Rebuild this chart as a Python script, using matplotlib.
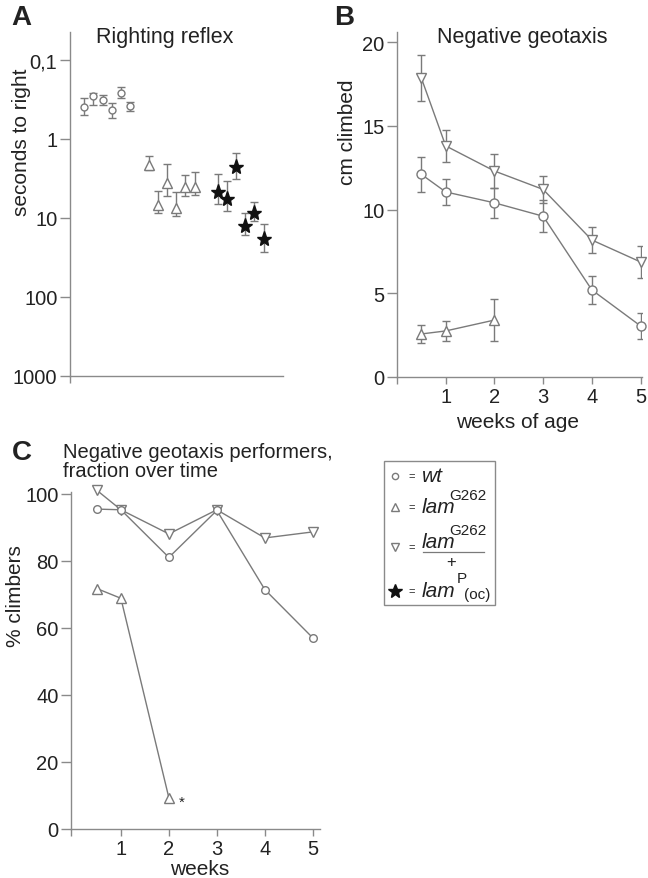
import matplotlib
matplotlib.use("Agg")
import matplotlib.pyplot as plt
from matplotlib.lines import Line2D
from matplotlib.patches import Rectangle
import numpy as np

plt.rcParams['font.family'] = ['Liberation Sans', 'DejaVu Sans']

# ---------------- data ----------------
# Panel A: righting reflex (seconds to right), log scale
a_wt = [0.39, 0.29, 0.32, 0.43, 0.26, 0.38]
a_wt_lo = [0.30, 0.26, 0.28, 0.35, 0.22, 0.34]
a_wt_hi = [0.50, 0.37, 0.37, 0.54, 0.30, 0.44]
a_lam = [2.13, 6.8, 3.6, 7.5, 4.05, 4.0]
a_lam_lo = [1.64, 4.55, 2.07, 4.69, 2.86, 2.62]
a_lam_hi = [2.47, 8.65, 5.27, 9.4, 5.27, 5.1]
a_oc = [4.69, 5.75, 2.26, 12.6, 8.6, 18.4]
a_oc_lo = [2.77, 3.4, 1.5, 8.65, 6.26, 11.9]
a_oc_hi = [6.65, 8.15, 3.2, 16.4, 10.9, 26.9]
a_yticks = [0.1, 1, 10, 100, 1000]
a_yticklabels = ['0,1', '1', '10', '100', '1000']

# Panel B: negative geotaxis (cm climbed)
b_weeks = [0.5, 1, 2, 3, 4, 5]
b_het = [17.85, 13.8, 12.3, 11.2, 8.18, 6.87]
b_het_err = [1.35, 0.95, 1.0, 0.8, 0.75, 0.95]
b_wt = [12.1, 11.05, 10.4, 9.6, 5.2, 3.05]
b_wt_err = [1.05, 0.8, 0.9, 0.95, 0.85, 0.8]
b_lam_weeks = [0.5, 1, 2]
b_lam = [2.57, 2.75, 3.4]
b_lam_err = [0.55, 0.6, 1.25]

# Panel C: % climbers
c_weeks = [0.5, 1, 2, 3, 4, 5]
c_het = [101.0, 95.2, 88.0, 95.2, 86.8, 88.6]
c_wt = [95.4, 95.2, 81.0, 95.0, 71.4, 57.0]
c_lam_weeks = [0.5, 1, 2]
c_lam = [71.7, 68.8, 9.3]

week_ticks = [1, 2, 3, 4, 5]

# ---------------- style ----------------
GREY = '#7a7a7a'
AXC = '#8a8a8a'
TXT = '#222222'
FS_TICK = 14.5
FS_LAB = 15
FS_TITLE = 15.5
W, H = 648, 879
fig = plt.figure(figsize=(W / 100, H / 100), dpi=100)

def px(x):
    return x / W

def py(y):
    return 1 - y / H

def style_axes(ax):
    for s in ['top', 'right']:
        ax.spines[s].set_visible(False)
    for s in ['left', 'bottom']:
        ax.spines[s].set_color(AXC)
        ax.spines[s].set_linewidth(1.0)
    ax.tick_params(colors=AXC, labelcolor=TXT, labelsize=FS_TICK, width=1.0, direction='out')
    ax.tick_params(axis='y', length=7, pad=2)
    ax.tick_params(axis='x', length=5, pad=2)

def with_corner_tick(ax, ticks, x0):
    ax.set_xticks([x0] + list(ticks))
    ax.set_xticklabels([''] + [str(t) for t in ticks])

# ---------------- Panel A ----------------
axA = fig.add_axes([px(70), py(377), px(283) - px(70), py(33) - py(377)])
style_axes(axA)
axA.set_yscale('log')
axA.set_ylim(1000, 0.0443)
step = 1.0
xw = np.arange(len(a_wt)) * step
xl = xw[-1] + 2 * step + np.arange(len(a_lam)) * step
xs = xl[-1] + 2.5 * step + np.arange(len(a_oc)) * step
axA.set_xlim(-1.55, 21.6)

def errA(x, v, lo, hi, marker, fc, ms):
    v = np.array(v); lo = np.array(lo); hi = np.array(hi)
    axA.errorbar(x, v, yerr=[v - lo, hi - v], fmt='none', ecolor=GREY, elinewidth=1.0,
                 capsize=3, capthick=1.0, zorder=2)
    axA.plot(x, v, linestyle='none', marker=marker, mfc=fc, mec=GREY if fc == 'white' else '#111111',
             ms=ms, mew=1.0, zorder=3)

errA(xw, a_wt, a_wt_lo, a_wt_hi, 'o', 'white', 5)
errA(xl, a_lam, a_lam_lo, a_lam_hi, '^', 'white', 6.5)
errA(xs, a_oc, a_oc_lo, a_oc_hi, '*', '#111111', 11)
axA.set_yticks(a_yticks)
axA.set_yticklabels(a_yticklabels)
axA.yaxis.set_minor_locator(matplotlib.ticker.NullLocator())
with_corner_tick(axA, [], -1.55)
axA.set_ylabel('seconds to right', fontsize=FS_LAB, color=TXT)
axA.yaxis.set_label_coords(-0.183, 0.683)
fig.text(px(165), py(38), 'Righting reflex', fontsize=FS_TITLE, color=TXT, ha='center', va='center')
fig.text(px(11), py(18), 'A', fontsize=20, fontweight='bold', color=TXT, ha='left', va='center')

# ---------------- Panel B ----------------
axB = fig.add_axes([px(397), py(378), px(642) - px(397), py(33) - py(378)])
style_axes(axB)
axB.set_xlim(0, 5.03)
axB.set_ylim(0, 20.6)
axB.set_yticks([0, 5, 10, 15, 20])
with_corner_tick(axB, week_ticks, 0)

def lineB(x, v, e, marker, ms):
    axB.errorbar(x, v, yerr=e, fmt='none', ecolor=GREY, elinewidth=1.0, capsize=3, capthick=1.0, zorder=2)
    axB.plot(x, v, color=GREY, lw=1.0, marker=marker, mfc='white', mec=GREY, ms=ms, mew=1.0, zorder=3, clip_on=False)

lineB(b_weeks, b_het, b_het_err, 'v', 7.5)
lineB(b_weeks, b_wt, b_wt_err, 'o', 6.5)
lineB(b_lam_weeks, b_lam, b_lam_err, '^', 7.5)
axB.set_ylabel('cm climbed', fontsize=FS_LAB, color=TXT)
axB.yaxis.set_label_coords(-0.163, 0.713)
axB.set_xlabel('weeks of age', fontsize=FS_LAB, color=TXT)
axB.xaxis.set_label_coords(0.49, -0.102)
fig.text(px(522), py(37), 'Negative geotaxis', fontsize=FS_TITLE, color=TXT, ha='center', va='center')
fig.text(px(334), py(18), 'B', fontsize=20, fontweight='bold', color=TXT, ha='left', va='center')

# ---------------- Panel C ----------------
axC = fig.add_axes([px(71), py(830), px(320) - px(71), py(493) - py(830)])
style_axes(axC)
axC.set_xlim(-0.04, 5.15)
axC.set_ylim(0, 100.5)
axC.set_yticks([0, 20, 40, 60, 80, 100])
with_corner_tick(axC, week_ticks, -0.04)
axC.plot(c_weeks, c_het, color=GREY, lw=1.0, marker='v', mfc='white', mec=GREY, ms=7, mew=1.0, clip_on=False, zorder=3)
axC.plot(c_weeks, c_wt, color=GREY, lw=1.0, marker='o', mfc='white', mec=GREY, ms=5.5, mew=1.0, clip_on=False, zorder=3)
axC.plot(c_lam_weeks, c_lam, color=GREY, lw=1.0, marker='^', mfc='white', mec=GREY, ms=7, mew=1.0, clip_on=False, zorder=3)
axC.annotate('*', xy=(c_lam_weeks[-1], c_lam[-1]), xytext=(9, -3), textcoords='offset points',
             fontsize=11, color=TXT, ha='center', va='center')
axC.set_ylabel('% climbers', fontsize=FS_LAB, color=TXT)
axC.yaxis.set_label_coords(-0.185, 0.694)
axC.set_xlabel('weeks', fontsize=FS_LAB, color=TXT)
axC.xaxis.set_label_coords(0.518, -0.088)
fig.text(px(63), py(462), 'Negative geotaxis performers,\nfraction over time', fontsize=14.5,
         color=TXT, ha='left', va='center', linespacing=1.0)
fig.text(px(12), py(453), 'C', fontsize=20, fontweight='bold', color=TXT, ha='left', va='center')

# ---------------- Legend ----------------
fig.patches.append(Rectangle((px(384), py(606)), px(495) - px(384), py(462) - py(606),
                             transform=fig.transFigure, fill=False, edgecolor=AXC, lw=1.0))
mx = px(395)
for yy, mk, fc, ms in [(477, 'o', 'white', 4.5), (508, '^', 'white', 6), (548, 'v', 'white', 6), (592, '*', '#111111', 10)]:
    fig.lines.append(Line2D([mx], [py(yy)], transform=fig.transFigure, marker=mk, mfc=fc,
                            mec=GREY if fc == 'white' else '#111111', ms=ms, mew=1.0, linestyle='none'))
    fig.text(px(412), py(yy), '=', fontsize=8, color=TXT, ha='center', va='center')

fs_main = 15
fs_sup = 11
fig.text(px(422), py(477), 'wt', fontsize=fs_main, style='italic', color=TXT, ha='left', va='center')
fig.text(px(422), py(508), 'lam', fontsize=fs_main, style='italic', color=TXT, ha='left', va='center')
fig.text(px(449), py(496), 'G262', fontsize=fs_sup, color=TXT, ha='left', va='center')
fig.text(px(422), py(543), 'lam', fontsize=fs_main, style='italic', color=TXT, ha='left', va='center')
fig.text(px(449), py(531), 'G262', fontsize=fs_sup, color=TXT, ha='left', va='center')
fig.lines.append(Line2D([px(423), px(484)], [py(553), py(553)], transform=fig.transFigure, color=GREY, lw=0.9))
fig.text(px(451), py(562), '+', fontsize=12, color=TXT, ha='center', va='center')
fig.text(px(422), py(592), 'lam', fontsize=fs_main, style='italic', color=TXT, ha='left', va='center')
fig.text(px(457), py(586), 'P', fontsize=fs_sup, color=TXT, ha='left', va='bottom')
fig.text(px(464), py(588), '(oc)', fontsize=fs_sup, color=TXT, ha='left', va='top')

fig.savefig('out.png', dpi=100)
